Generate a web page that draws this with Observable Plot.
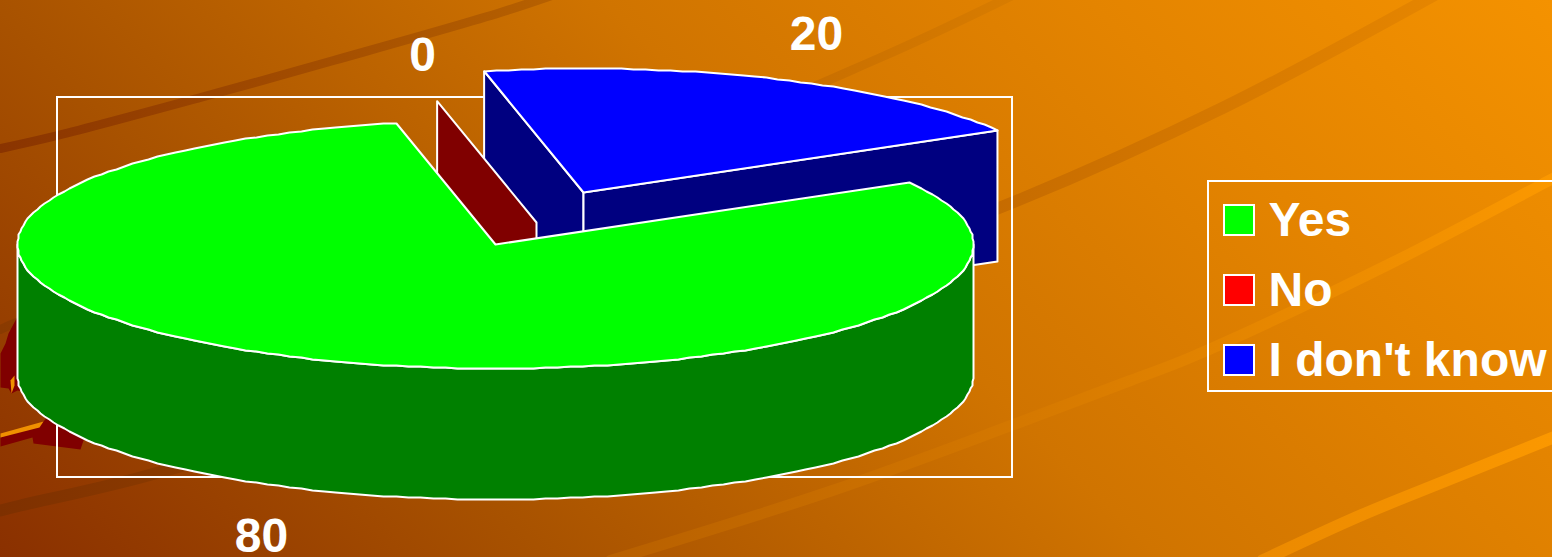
<!DOCTYPE html>
<html><head><meta charset="utf-8">
<script src="https://cdn.jsdelivr.net/npm/d3@7"></script>
<script src="https://cdn.jsdelivr.net/npm/@observablehq/plot@0.6"></script>
<style>
html,body{margin:0;padding:0;width:1552px;height:557px;overflow:hidden;
background:linear-gradient(45deg,#8a3000 0%,#a85200 26%,#d07400 55%,#e48400 78%,#f49200 100%);}
svg{display:block;background:transparent!important;}
</style></head><body><script>
// ---- data
const categories = ["Yes", "No", "I don't know"];
const values = [80, 0, 20];
const topColors = ["#00ff00", "#ff0000", "#0000ff"];
const sideColors = ["#008000", "#800000", "#000080"];

// ---- pie geometry (drawing parameters, not data)
const W = 1552, H = 557;
const startAngle = 60, cx = 495, cy = 244, rx = 478, ry = 124, depth = 131;
const explode = [[0, 0], [41, -22], [88, -52]];
const labelAt = [[261, 536], [422, 55], [816, 34]];

// ---- template artwork behind the chart
const bands = [
  {id:"a", w:9, c0:"#8a3400", c1:"#b66000", x0:0, x1:545, pts:[[0,148],[57,135],[200,97],[333,60],[500,12],[560,-8]]},
  {id:"b", w:9, c0:"#8a3a00", c1:"#d87c00", x0:0, x1:1009, pts:[[0,329],[16,322],[300,240],[650,150],[880,57],[1012,-5]]},
  {id:"c", w:12, c0:"#7e3000", c1:"#e58500", x0:0, x1:1429, pts:[[0,510],[20,505],[140,477],[500,370],[800,280],[1017,200],[1223,107],[1435,-6]]},
  {id:"d", w:11, c0:"#b86000", c1:"#fb9800", x0:617, x1:1552, pts:[[610,560],[832,490],[1016,423],[1130,380],[1190,357],[1390,263],[1543,183],[1560,174]]},
  {id:"e", w:12, c0:"#ec8a00", c1:"#fb9800", x0:1269, x1:1552, pts:[[1262,560],[1360,515],[1446,480],[1560,434]]}
];
const blobs = [
  {fill:"#800000", pts:[[0,353],[5,343],[8,333],[16,318],[30,318],[30,392],[17,390],[11,393],[8,388],[0,387]]},
  {fill:"#800000", pts:[[0,437],[43,421],[60,400],[100,420],[83,440],[80,449],[33,443],[32,437],[0,446]]},
  {fill:"#f09000", pts:[[14,375],[10,380],[11,393],[14,385]]},
  {fill:"#f09000", pts:[[0,433],[43,421],[39,427],[0,437]]}
];

// ---- build polygons from the values
const total = d3.sum(values);
const spans = [];
values.reduce((a, v, i) => { const b = a + v / total * 360; spans.push([a, b]); return b; }, startAngle);
const pt = (i, deg, dz = 0) => {
  const t = deg * Math.PI / 180;
  return [cx + explode[i][0] + rx * Math.sin(t), cy + explode[i][1] - ry * Math.cos(t) + dz];
};
const apex = (i, dz = 0) => [cx + explode[i][0], cy + explode[i][1] + dz];
const arc = (i, a, b, dz = 0) => {
  const n = Math.max(1, Math.ceil(Math.abs(b - a) / 1.5));
  return d3.range(n + 1).map(k => pt(i, a + (b - a) * k / n, dz)).map(([x, y]) => [Math.round(x), Math.round(y)]);
};
const wall = (i, deg) => [apex(i), pt(i, deg), pt(i, deg, depth), apex(i, depth)];
const topFace = i => [apex(i), ...arc(i, spans[i][0], spans[i][1])];
const [yes, no, dk] = [0, 1, 2];
const polys = [
  {pts: wall(dk, spans[dk][0]), fill: sideColors[dk]},
  {pts: wall(dk, spans[dk][1]), fill: sideColors[dk]},
  {pts: topFace(dk), fill: topColors[dk]},
  {pts: wall(no, spans[no][0]), fill: sideColors[no]},
  {pts: [...arc(yes, 90, 270), ...arc(yes, 270, 90, depth)], fill: sideColors[yes]},
  {pts: topFace(yes), fill: topColors[yes]}
];
const poly = p => Plot.line(p.pts, {x: d => d[0], y: d => d[1], curve: "linear-closed",
  fill: p.fill, stroke: "white", strokeWidth: 2, strokeLinejoin: "round"});

const font = "'Liberation Sans', Arial, sans-serif";
const legendRows = categories.map((name, i) => ({name, color: topColors[i], top: 205 + i * 70}));
const labels = values.map((v, i) => ({v: String(v), x: labelAt[i][0], y: labelAt[i][1]}));

const defs = () => {
  const d = d3.create("svg:defs");
  for (const b of bands) {
    const g = d.append("linearGradient").attr("id", "band-" + b.id).attr("gradientUnits", "userSpaceOnUse")
      .attr("x1", b.x0).attr("x2", b.x1).attr("y1", 0).attr("y2", 0);
    g.append("stop").attr("offset", 0).attr("stop-color", b.c0);
    g.append("stop").attr("offset", 1).attr("stop-color", b.c1);
  }
  return d.node();
};

const chart = Plot.plot({
  width: W, height: H, margin: 0,
  x: {domain: [0, W], range: [0, W], axis: null},
  y: {domain: [0, H], range: [0, H], axis: null},
  style: {background: "transparent", fontFamily: font},
  marks: [
    defs,
    ...bands.map(b => Plot.line(b.pts, {x: d => d[0], y: d => d[1], curve: "catmull-rom",
      stroke: `url(#band-${b.id})`, strokeWidth: b.w})),
    ...blobs.map(b => Plot.line(b.pts, {x: d => d[0], y: d => d[1], curve: "linear-closed", fill: b.fill, stroke: "none"})),
    Plot.rect([0], {x1: () => 57, x2: () => 1012, y1: () => 97, y2: () => 477, fill: "none", stroke: "white", strokeWidth: 2}),
    ...polys.map(poly),
    Plot.text(labels, {x: "x", y: "y", text: "v", fill: "white", fontWeight: "bold", fontSize: 48, fontFamily: font, textAnchor: "middle", lineAnchor: "middle"}),
    Plot.rect([0], {x1: () => 1208, x2: () => 1570, y1: () => 181, y2: () => 391, fill: "none", stroke: "white", strokeWidth: 2}),
    Plot.rect(legendRows, {x1: () => 1224, x2: () => 1254, y1: d => d.top, y2: d => d.top + 30, fill: "color", stroke: "white", strokeWidth: 2}),
    Plot.text(legendRows, {x: () => 1268, y: d => d.top + 15, text: "name", fill: "white", fontWeight: "bold", fontSize: 48, fontFamily: font, textAnchor: "start", lineAnchor: "middle"})
  ],
  color: {type: "identity"}
});
document.body.appendChild(chart);
</script></body></html>
